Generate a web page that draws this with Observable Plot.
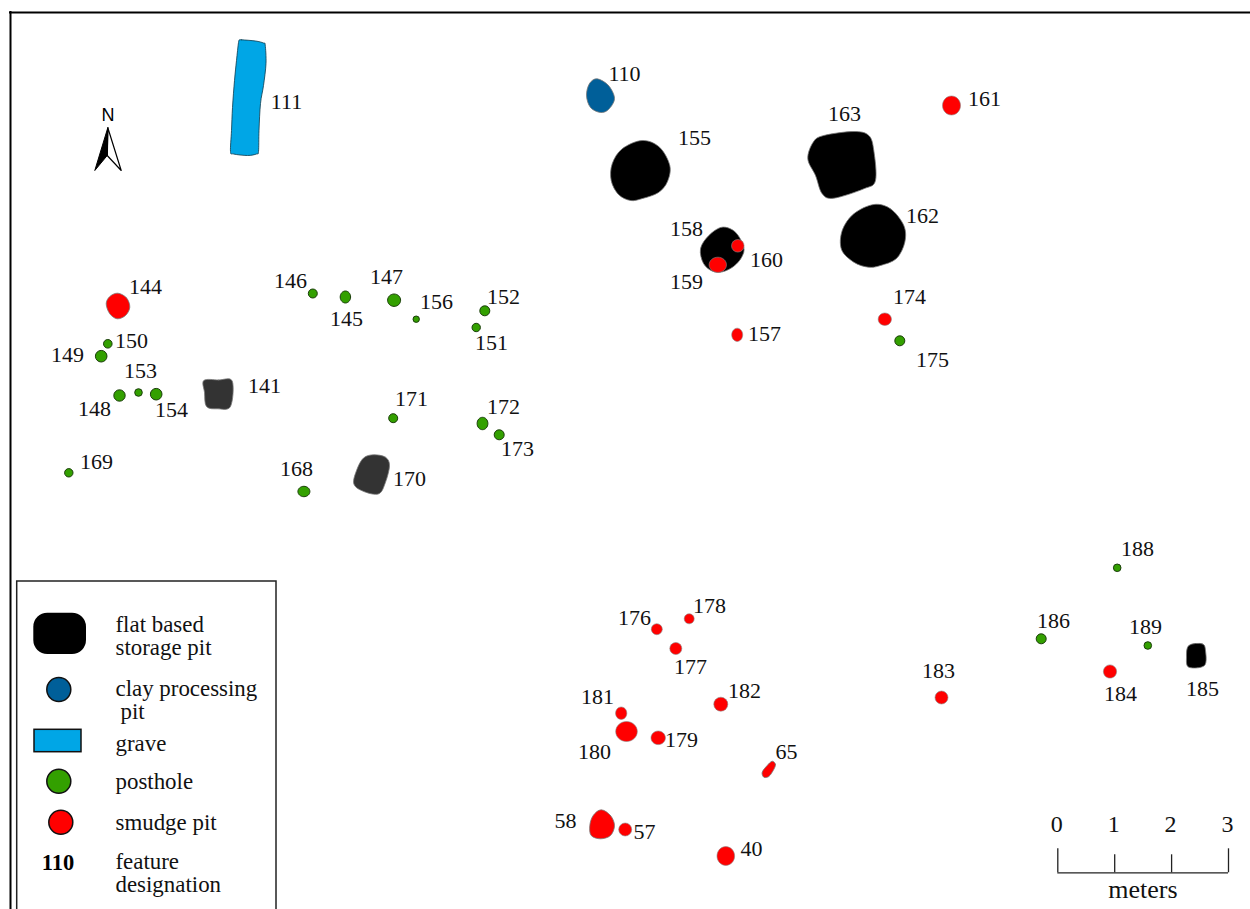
<!DOCTYPE html>
<html>
<head>
<meta charset="utf-8">
<script src="https://cdn.jsdelivr.net/npm/d3@7"></script>
<script src="https://cdn.jsdelivr.net/npm/@observablehq/plot@0.6"></script>
<style>
html,body{margin:0;padding:0;background:#fff;overflow:hidden}
svg{display:block}
</style>
</head>
<body>
<div id="chart"></div>
<script>
// plan coordinates of the excavation map (x east, y south)
const palette = {storage:"#000000", dark:"#333333", clay:"#005f99", grave:"#00a6e6", posthole:"#33a000", smudge:"#ff0000"};

const postholes = [
  ["150",107.3,343.3,4.3],["149",100.7,355.7,5.8],["148",119,395,5.7],["153",138,392,3.8],["154",155.7,393.7,5.8],
  ["169",68.3,472.3,4.2],["146",312.3,293,4.5],["156",415.7,318.7,3.2],
  ["152",484.3,310.3,5],["151",475.7,327,4.2],["171",392.7,417.7,4.5],["173",498.7,434.3,5],
  ["175",899.3,340.3,5],["188",1116.7,567.3,3.8],["186",1040.7,638.3,5],["189",1147.3,645,3.8]
];
const smudgePits = [
  ["160",737.3,245.3,6.3],["176",656.3,628.7,5.5],["178",688.7,618.3,5],["177",675.3,648,6],["182",720.3,703.7,7],
  ["57",624.7,829,6.5],["183",941,697,6.5]
];
// oval features: id, x, y, half-width, half-height
const ovalPostholes = [
  ["172",482,423,5.4,6.2],["145",344.9,296.5,5.2,6],["147",393.6,299.7,6.5,6.2],["168",303.4,491,6,5.2]
];
const ovalSmudgePits = [
  ["159",717.3,264.3,8.7,7.6],["180",626,731,10.8,10],["40",725.3,855.5,8.8,9.4],["184",1109.5,671,6.6,6.6],
  ["161",951,105,9,9.5],["157",736.7,334.3,5.5,6.6],["174",884.3,318.7,6.6,6.2],["179",657.7,737.3,7.2,6.8],["181",620.7,712.7,5.6,6.2]
];

const outlineGrave111 = [[239,39.5],[241,39.3],[255,40.5],[263,42.5],[264.7,44.5],[265.5,63],[263,85],[260,103],[258.5,130],[258,151],[256,153.5],[247,155],[233,153.5],[230,151],[231,130],[232,107],[234,80],[236,60],[238,42]];
const outlineClay110 = [[596.7,78.3],[608,85],[614,98],[608,109],[600,112],[590,107],[586,95],[589,83]];
const outline155 = [[641.7,140],[659,146.7],[669.3,165],[667,181],[658,192],[642,198],[630,200],[618,194],[610.7,180],[611.7,163.3],[621.7,148.3]];
const outline163 = [[823.3,135],[853.3,131],[868.3,135],[873.3,150],[875,180],[863.3,188.3],[833.3,197.7],[821.7,193.3],[815,175],[807.3,158.3],[812.7,141.7]];
const outline162 = [[873.3,204],[890,208.3],[903.3,225],[904.3,241.7],[896,258],[880,265],[868,266.7],[853.3,261.7],[841,249],[841.7,230],[853.3,213.3]];
const outline158 = [[721.7,226.7],[735,231.7],[743.3,246.7],[741,257],[733,266],[722,271.3],[712,270.7],[703,263],[700,248.3],[708.3,235]];
const outline185 = [[1188.3,645],[1201.7,643.3],[1205,650],[1204,665],[1188.3,666.7],[1186,656.7]];
const outline141 = [[203.3,380],[218,379.5],[231.7,380.5],[230,406],[217,408.3],[206,406],[204,392]];
const outline170 = [[373.3,454.3],[385,456.7],[389,465],[385,481.7],[378.3,493.3],[363.3,491],[353.3,483.3],[356.7,468.3],[363.3,457.3]];
const outline144 = [[117.3,292.7],[126,297.3],[129.3,306.7],[125,315],[116.7,318.3],[109.3,313.3],[105.7,303.3],[109.3,296]];
const outline65 = [[771.7,760.7],[775,764],[772.7,770],[768.3,776],[763.3,776.7],[761.7,771.7],[766.7,765]];
const outline58 = [[600.7,809.3],[610,815],[614,825],[610,835],[600,838.3],[590.7,835],[589.3,825],[592.7,815]];

const featureLabels = [
  ["110",624,73],["111",286,101],["155",694,137],["163",844,113],["161",984,98],["162",922,215],["158",686,228],["159",686,281],
  ["160",766,259],["157",764,333],["174",909,296],["175",932,359],["144",145,286],["146",290,280],["145",346,318],["147",386,276],
  ["156",436,301],["152",503,296],["151",491,342],["150",131,340],["149",67,354],["153",140,370],["148",94,408],["154",171,409],
  ["141",264,385],["171",411,398],["172",503,406],["173",517,448],["169",96,461],["168",296,468],["170",409,478],["188",1137,548],
  ["186",1053,620],["189",1145,626],["184",1120,693],["185",1202,688],["183",938,670],["176",634,617],["178",709,605],["177",690,666],
  ["182",744,690],["181",597,696],["180",594,751],["179",681,739],["65",786,751],["58",565,820],["57",644,831],["40",751,848]
];

const legendLines = [
  ["flat based",115,624],["storage pit",115,647],["clay processing",115,688],["pit",120,711],
  ["grave",115,743],["posthole",115,781],["smudge pit",115,822],["feature",115,861],["designation",115,884]
];
const legendDots = [[58.3,689,"clay"],[58.3,780.7,"posthole"],[60.3,821.7,"smudge"]];

const scaleMeters = [0,1,2,3];
const scaleOrigin = 1057.3, scaleStep = 56.9, scaleBase = 872.3;

const arrowLeft = [[107.3,127.3],[94.3,170],[106.7,155]];
const arrowRight = [[107.3,127.3],[120.7,170],[106.7,155]];

const rows = (ring, id) => ring.map(([x,y]) => ({id,x,y}));
const closed = d3.curveCardinalClosed.tension(0);
const blob = (ring, color, stroke, sw) => Plot.line(rows(ring,"a"), {x:"x", y:"y", z:"id", fill:color, stroke:stroke||"#777", strokeWidth:sw||0.8, curve:closed});
const dots = (list, fill, stroke, sw) => Plot.dot(list, {x:d=>d[1], y:d=>d[2], r:d=>d[3], fill, stroke, strokeWidth:sw});
// an ellipse symbol of the same area as a circle of radius r
const ovalSymbol = aspect => ({draw(c, size){
  const r = Math.sqrt(size/Math.PI), rx = r*Math.sqrt(aspect), ry = r/Math.sqrt(aspect), k = 0.5523;
  c.moveTo(rx,0);
  c.bezierCurveTo(rx,k*ry,k*rx,ry,0,ry);
  c.bezierCurveTo(-k*rx,ry,-rx,k*ry,-rx,0);
  c.bezierCurveTo(-rx,-k*ry,-k*rx,-ry,0,-ry);
  c.bezierCurveTo(k*rx,-ry,rx,-k*ry,rx,0);
  c.closePath();
}});
const ovals = (list, fill, stroke, sw) => list.map(d => Plot.dot([d], {x:e=>e[1], y:e=>e[2], r:Math.sqrt(d[3]*d[4]), symbol:ovalSymbol(d[3]/d[4]), fill, stroke, strokeWidth:sw}));
const serif = "Liberation Serif";
const postStroke = "#1a3d0a";

const chart = Plot.plot({
  width:1250, height:909,
  marginTop:0, marginRight:0, marginBottom:0, marginLeft:0,
  x:{domain:[0,1250], range:[0,1250], axis:null},
  y:{domain:[0,909], range:[0,909], axis:null},
  r:{type:"identity"},
  style:{background:"#fff", fontFamily:serif},
  marks:[
    // map frame
    Plot.ruleY([12],{x1:9,x2:1250,stroke:"#000",strokeWidth:2}),
    Plot.ruleX([10],{y1:11,y2:909,stroke:"#000",strokeWidth:2}),

    blob(outlineGrave111, palette.grave, "#0b3a4d"),
    blob(outlineClay110, palette.clay),
    blob(outline155, palette.storage),
    blob(outline163, palette.storage),
    blob(outline162, palette.storage),
    blob(outline158, palette.storage),
    blob(outline185, palette.storage),
    blob(outline141, palette.dark),
    blob(outline170, palette.dark),
    blob(outline144, palette.smudge),
    blob(outline65, palette.smudge),
    blob(outline58, palette.smudge),
    dots(postholes, palette.posthole, postStroke, 1),
    dots(smudgePits, palette.smudge, "#888", 0.6),
    ...ovals(ovalPostholes, palette.posthole, postStroke, 1),
    ...ovals(ovalSmudgePits, palette.smudge, "#888", 0.6),

    Plot.text(featureLabels, {x:d=>d[1], y:d=>d[2], text:d=>d[0], fontSize:22, fill:"#111", fontFamily:serif, textAnchor:"middle", lineAnchor:"middle"}),

    // north arrow
    Plot.line(arrowRight, {x:d=>d[0], y:d=>d[1], fill:"#fff", stroke:"#000", strokeWidth:1.2, curve:"linear-closed"}),
    Plot.line(arrowLeft, {x:d=>d[0], y:d=>d[1], fill:"#000", stroke:"#000", strokeWidth:1, curve:"linear-closed"}),
    Plot.text(["N"], {x:107.5, y:115, text:d=>d, fontSize:18, fontFamily:"Liberation Sans", fill:"#000", textAnchor:"middle", lineAnchor:"middle"}),

    // scale bar
    Plot.ruleY([scaleBase], {x1:scaleOrigin, x2:scaleOrigin+3*scaleStep, stroke:"#222", strokeWidth:1.3}),
    Plot.ruleX(scaleMeters, {x:d=>scaleOrigin+d*scaleStep, y1:d=>(d===0||d===3)?848.3:854.3, y2:scaleBase, stroke:"#222", strokeWidth:1.3}),
    Plot.text(scaleMeters, {x:d=>scaleOrigin+d*scaleStep-1, y:824, text:d=>String(d), fontSize:24, fill:"#111", fontFamily:serif, textAnchor:"middle", lineAnchor:"middle"}),
    Plot.text(["meters"], {x:1142.5, y:889, text:d=>d, fontSize:26, fill:"#111", fontFamily:serif, textAnchor:"middle", lineAnchor:"middle"}),

    // legend
    Plot.rect([0], {x1:16.7, x2:276, y1:581, y2:920, fill:"#fff", stroke:"#222", strokeWidth:1.5}),
    Plot.rect([0], {x1:33.3, x2:86, y1:612.7, y2:654, fill:"#000", rx:14}),
    Plot.rect([0], {x1:34, x2:81, y1:729.3, y2:751.7, fill:palette.grave, stroke:"#111", strokeWidth:1.5}),
    Plot.dot(legendDots, {x:d=>d[0], y:d=>d[1], r:12, fill:d=>palette[d[2]], stroke:"#111", strokeWidth:1.5}),
    Plot.text(["110"], {x:57.5, y:862, text:d=>d, fontSize:22.5, fontWeight:"bold", fill:"#000", fontFamily:serif, textAnchor:"middle", lineAnchor:"middle"}),
    Plot.text(legendLines, {x:d=>d[1], y:d=>d[2], text:d=>d[0], fontSize:22.9, fill:"#111", fontFamily:serif, textAnchor:"start", lineAnchor:"middle"})
  ]
});
document.getElementById("chart").append(chart);
</script>
</body>
</html>
